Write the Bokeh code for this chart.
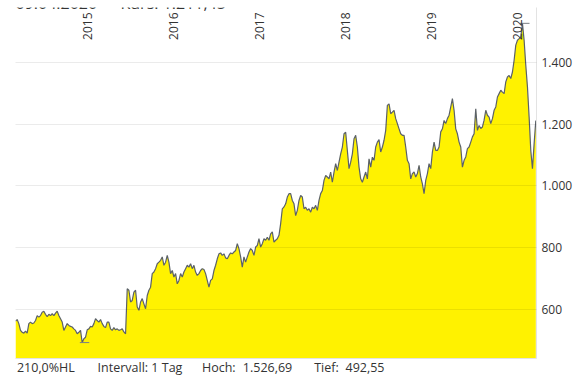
import numpy as np
import pandas as pd
from bokeh.plotting import figure
from bokeh.models import Range1d, FixedTicker, Label, LabelSet, ColumnDataSource, LinearAxis
from bokeh.embed import file_html
from bokeh.resources import INLINE
from bokeh.core.properties import value

# ---- data (weekly closes) ----
start_date = "2014-03-24"
end_date = "2020-04-09"
values = [
    562, 567, 554, 532, 526, 523, 530, 523, 554, 559, 554, 556, 564, 580, 575, 580, 591, 594, 584, 577,
    584, 580, 586, 580, 588, 594, 580, 570, 559, 532, 543, 554, 548, 545, 543, 537, 532, 521, 526, 532,
    492.55, 505, 510, 534, 537, 545, 543, 554, 570, 564, 559, 567, 554, 545, 541, 559, 559,
    537, 532, 541, 534, 537, 532, 534, 537, 527, 521, 667, 662, 624, 629, 656, 662, 608, 597, 624, 635,
    618, 602, 645, 662, 672, 716, 721, 732, 748, 753, 759, 770, 743, 753, 775, 753, 716, 726, 705, 716,
    683, 694, 716, 705, 721, 732, 743, 737, 748, 732, 743, 721, 710, 716,
    726, 732, 729, 716, 694, 672, 694, 699, 726, 743, 764, 780, 783, 775, 780, 767, 764, 775, 783, 780,
    786, 791, 813, 797, 770, 737, 770, 753, 770, 786, 797, 791, 775, 802, 807, 829, 802, 813, 829, 824,
    834, 824, 845, 851, 818, 824, 829, 840, 878, 926, 932, 942, 964, 975,
    975, 953, 942, 904, 921, 953, 969, 964, 926, 931, 921, 926, 915, 931, 926, 937, 921, 953, 975, 985,
    1018, 1034, 1029, 1023, 1045, 1012, 1045, 1072, 1050, 1077, 1104, 1126, 1169, 1174, 1115, 1056, 1077, 1104, 1153, 1164,
    1126, 1061, 1023, 1012, 1029, 1045, 1023, 1088, 1061, 1093, 1083, 1126, 1142, 1150,
    1110, 1126, 1148, 1180, 1261, 1266, 1234, 1239, 1245, 1218, 1202, 1185, 1169, 1164, 1164, 1126, 1083, 1072, 1023, 1040,
    1045, 1029, 1040, 1067, 1029, 1007, 975, 1018, 1040, 1072, 1056, 1110, 1142, 1115, 1115, 1126, 1175, 1185, 1212, 1202,
    1218, 1229, 1256, 1283, 1245, 1185, 1169, 1142, 1126, 1061, 1083, 1094, 1121, 1126,
    1142, 1159, 1169, 1250, 1180, 1196, 1186, 1191, 1213, 1245, 1229, 1223, 1202, 1218, 1245, 1256, 1288, 1299, 1310, 1304,
    1299, 1337, 1353, 1358, 1348, 1369, 1407, 1456, 1472, 1477, 1483, 1526.69, 1472, 1391, 1321, 1223, 1115, 1056, 1137, 1211.45,
]
years = [2015, 2016, 2017, 2018, 2019, 2020]
year_labels = ["2015", "2016", "2017", "2018", "2019", "2020"]
y_ticks = [600, 800, 1000, 1200, 1400]
y_tick_labels = ["600", "800", "1.000", "1.200", "1.400"]
header_date = "09.04.2020"
header_kurs = "Kurs: 1.211,45"
footer = ["210,0%HL", "Intervall: 1 Tag", "Hoch:", "1.526,69", "Tief:", "492,55"]
footer_center_px = [30.4, 124.5, 203.3, 252, 311, 349.5]   # text centres, px from plot's left edge

dates = pd.date_range(start_date, end_date, periods=len(values))
vals = np.array(values, dtype=float)

Y0, Y1 = 441, 1578
x0 = pd.Timestamp("2014-03-24")
x1 = pd.Timestamp("2020-04-12")
x0_ms = x0.value / 1e6
x1_ms = x1.value / 1e6
FRAME_W = 521
ms_per_px = (x1_ms - x0_ms) / FRAME_W

FONT = "Open Sans"
TXT = "#333333"

p = figure(width=585, height=379, x_axis_type=None,
           x_range=Range1d(x0, x1), y_range=Range1d(Y0, Y1),
           output_backend="svg", toolbar_location=None,
           y_axis_location="right",
           min_border_left=15, min_border_right=49, min_border_top=7, min_border_bottom=21)
p.outline_line_color = None
p.background_fill_color = "white"

p.varea(x=dates, y1=Y0, y2=vals, fill_color="#FFF200")
p.line(dates, vals, line_color="#5b6168", line_width=1.2)

# high / low markers
imin = int(np.argmin(vals)); imax = int(np.argmax(vals))
for i in (imin, imax):
    d = dates[i]
    p.segment(x0=[d - pd.Timedelta(days=10)], y0=[vals[i]], x1=[d + pd.Timedelta(days=30)], y1=[vals[i]],
              line_color="#7a7f85", line_width=1)

year_ts = [pd.Timestamp(f"{y}-01-01") for y in years]
year_ms = [t.value / 1e6 for t in year_ts]

# bottom axis: its line is the bottom border, its labels carry the footer texts
foot_ticks = [x0_ms + o * ms_per_px for o in footer_center_px]
xax = LinearAxis(ticker=FixedTicker(ticks=foot_ticks),
                 major_label_overrides={t: s for t, s in zip(foot_ticks, footer)})
xax.major_label_text_font = FONT
xax.major_label_text_font_size = "12.5px"
xax.major_label_text_color = TXT
xax.major_label_standoff = 0
xax.major_tick_line_color = None
xax.minor_tick_line_color = None
xax.major_tick_out = 0
xax.major_tick_in = 0
xax.minor_tick_out = 0
xax.minor_tick_in = 0
xax.axis_line_color = "#e3e3e3"
p.add_layout(xax, "below")

p.xgrid.ticker = FixedTicker(ticks=year_ms)

# y axis on the right
p.yaxis.ticker = FixedTicker(ticks=y_ticks)
p.yaxis.major_label_overrides = dict(zip(y_ticks, y_tick_labels))
p.yaxis.axis_line_color = "#e3e3e3"
p.yaxis.major_tick_line_color = None
p.yaxis.minor_tick_line_color = None
p.yaxis.major_tick_out = 0
p.yaxis.minor_tick_out = 0
p.yaxis.major_label_standoff = 5
p.yaxis.major_label_text_font = FONT
p.yaxis.major_label_text_font_size = "12px"
p.yaxis.major_label_text_color = TXT

for g in (p.xgrid, p.ygrid):
    g.grid_line_color = "#000000"
    g.grid_line_alpha = 0.08
    g.level = "annotation"

# year labels inside top of plot
ysrc = ColumnDataSource(dict(x=year_ms, y=[1562] * len(years), t=year_labels))
p.add_layout(LabelSet(x="x", y="y", text="t", source=ysrc, angle=np.pi / 2,
                      text_align="right", text_baseline="top", x_offset=1,
                      text_font=value(FONT), text_font_size="12px", text_color=TXT))

# header (cut off at top)
p.add_layout(Label(x=x0_ms, y=1591, text=header_date, text_font=FONT, text_font_size="16px",
                   text_color=TXT, text_baseline="alphabetic", x_offset=0))
p.add_layout(Label(x=x0_ms, y=1591, text=header_kurs, text_font=FONT, text_font_size="16px",
                   text_color=TXT, text_baseline="alphabetic", x_offset=105))

open("out.html", "w").write(file_html(p, INLINE))
